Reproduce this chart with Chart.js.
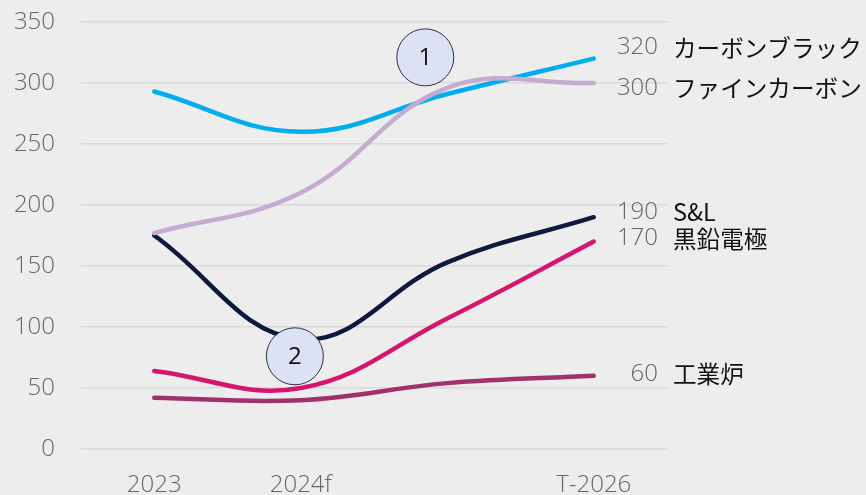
<!DOCTYPE html>
<html>
<head>
<meta charset="utf-8">
<script src="https://cdn.jsdelivr.net/npm/chart.js@4.4.1/dist/chart.umd.min.js"></script>
<style>
  html, body { margin: 0; padding: 0; background: #ededed; }
  #wrap { width: 866px; height: 495px; position: relative; }
</style>
</head>
<body>
<div id="wrap"><canvas id="chart"></canvas></div>
<script>
// categories (third slot has no label)
var years = ['2023', '2024f', '', 'T-2026'];

// series values
var carbonBlack = [293, 260, 291, 320];
var fineCarbon = [177, 210, 296, 300];
var slValues = [175, 90, 153, 190];
var graphiteElectrode = [64, 50, 107, 170];
var industrialFurnace = [42, 40, 54, 60];

var seriesNames = ['カーボンブラック', 'ファインカーボン', 'S&L', '黒鉛電極', '工業炉'];
var endLabels = ['320', '300', '190', '170', '60'];

// numbered callouts: label, category position, value
var callouts = [
	{ text: '1', at: 1.85, value: 321 },
	{ text: '2', at: 0.96, value: 76 }
];

var numFont = '"Open Sans", "Noto Sans", sans-serif';
var jpFont = '"Noto Sans CJK JP", "Noto Sans", sans-serif';

var colors = ['#00adef', '#c4abcf', '#0e1a3d', '#d5156e', '#a2306b'];
// small vertical nudges so the end labels don't collide
var labelNudge = [-11, 5, -5, -3, -2];

var endLabelPlugin = {
	id: 'endLabels',
	afterDatasetsDraw: function(chart) {
		var ctx = chart.ctx;
		var area = chart.chartArea;
		ctx.save();
		ctx.textBaseline = 'middle';
		chart.data.datasets.forEach(function(ds, i) {
			var meta = chart.getDatasetMeta(i);
			var last = meta.data[meta.data.length - 1];
			var y = last.y + labelNudge[i];
			ctx.font = '300 24px ' + numFont;
			ctx.fillStyle = '#666666';
			ctx.textAlign = 'right';
			ctx.fillText(endLabels[i], area.right - 9, y);
			ctx.font = '23.6px ' + jpFont;
			ctx.fillStyle = '#111111';
			ctx.textAlign = 'left';
			ctx.fillText(seriesNames[i], area.right + 6, y);
		});
		ctx.restore();
	}
};

var calloutPlugin = {
	id: 'callouts',
	afterDatasetsDraw: function(chart) {
		var ctx = chart.ctx;
		var xs = chart.scales.x;
		var ys = chart.scales.y;
		ctx.save();
		callouts.forEach(function(c) {
			var i0 = Math.floor(c.at);
			var frac = c.at - i0;
			var x0 = xs.getPixelForValue(i0);
			var x1 = xs.getPixelForValue(i0 + 1);
			var cx = x0 + (x1 - x0) * frac;
			var cy = ys.getPixelForValue(c.value);
			ctx.beginPath();
			ctx.arc(cx, cy, 28.5, 0, Math.PI * 2);
			ctx.fillStyle = '#dce2f3';
			ctx.fill();
			ctx.lineWidth = 1;
			ctx.strokeStyle = '#2a2f45';
			ctx.stroke();
			ctx.fillStyle = '#111111';
			ctx.font = '24px ' + numFont;
			ctx.textAlign = 'center';
			ctx.textBaseline = 'middle';
			ctx.fillText(c.text, cx, cy + 1);
		});
		ctx.restore();
	}
};

function makeSet(data, i, order) {
	return {
		label: seriesNames[i],
		data: data,
		borderColor: colors[i],
		borderWidth: 4.5,
		borderCapStyle: 'round',
		pointRadius: 0,
		pointHoverRadius: 0,
		tension: 0.4,
		fill: false,
		order: order
	};
}

Chart.defaults.font.family = numFont;

var myChart = new Chart(document.getElementById('chart'), {
	type: 'line',
	data: {
		labels: years,
		datasets: [
			makeSet(carbonBlack, 0, 1),
			makeSet(fineCarbon, 1, 0),
			makeSet(slValues, 2, 1),
			makeSet(graphiteElectrode, 3, 1),
			makeSet(industrialFurnace, 4, 1)
		]
	},
	options: {
		responsive: true,
		maintainAspectRatio: false,
		animation: false,
		layout: { padding: { left: 0, right: 199, top: 22, bottom: 0 } },
		plugins: {
			legend: { display: false },
			tooltip: { enabled: false }
		},
		scales: {
			x: {
				offset: true,
				grid: { display: false, drawTicks: false },
				border: { display: false },
				ticks: {
					color: '#666666',
					font: { size: 24, weight: 300 },
					padding: 22,
					maxRotation: 0,
					autoSkip: false
				},
				afterFit: function(scale) { scale.height = 46; }
			},
			y: {
				min: 0,
				max: 350,
				grid: { color: '#d9d9d9', lineWidth: 1.5, drawTicks: false },
				border: { display: false },
				ticks: {
					stepSize: 50,
					color: '#666666',
					font: { size: 24, weight: 300 },
					padding: 26
				},
				afterFit: function(scale) {
					scale.width = 81;
					scale.paddingTop = 0;
					scale.paddingBottom = 0;
				}
			}
		}
	},
	plugins: [endLabelPlugin, calloutPlugin]
});
</script>
</body>
</html>
